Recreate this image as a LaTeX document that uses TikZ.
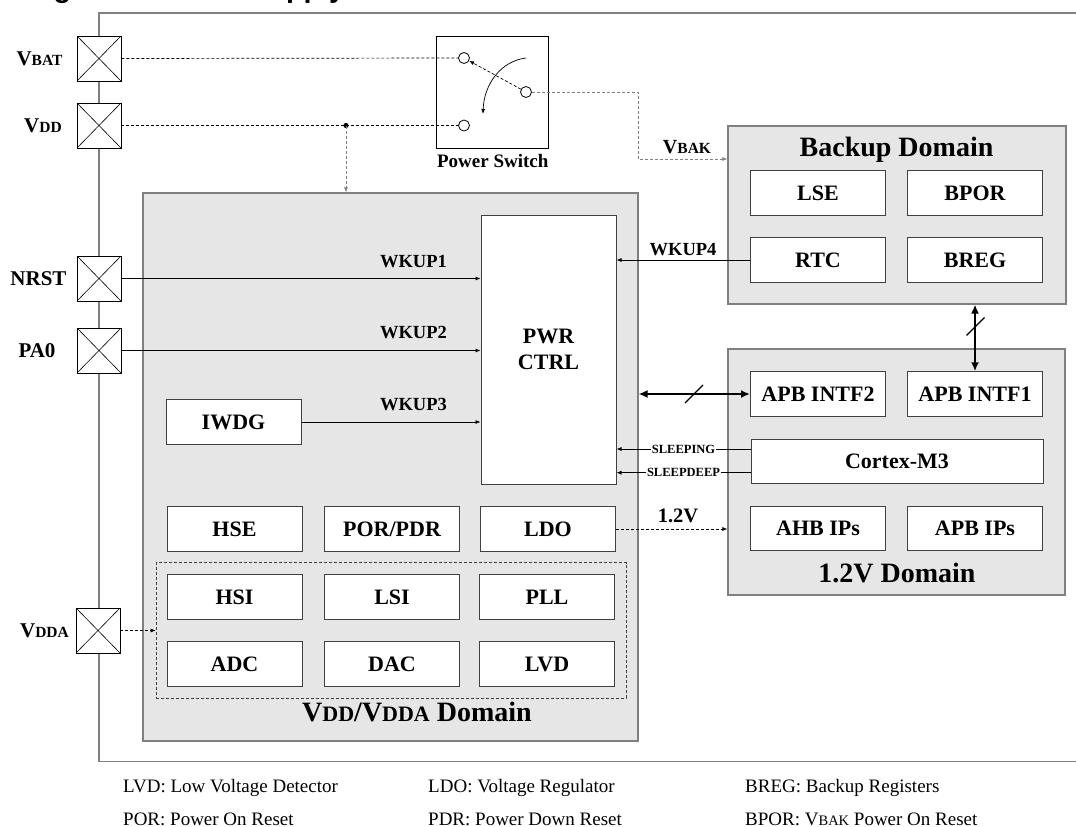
\documentclass[tikz,border=0pt]{standalone}
\usepackage{fontspec}
\setmainfont{Liberation Serif}
\newfontfamily\titlefont{Liberation Sans}
\usetikzlibrary{arrows.meta,calc}
\definecolor{domfill}{HTML}{E6E6E6}
\definecolor{framegray}{HTML}{808080}
\definecolor{boxline}{HTML}{404040}
\newcommand{\fsz}[1]{\fontsize{#1}{#1}\selectfont}
\newcommand{\lowc}[2]{{\fontsize{#2}{#2}\selectfont #1}}
\tikzset{
  dom/.style={draw=framegray, fill=domfill, line width=1.1pt, inner sep=0pt},
  blk/.style={draw=boxline, fill=white, line width=1pt, minimum width=135pt, minimum height=44.5pt, inner sep=0pt, font=\bfseries\fsz{22}},
  pad/.style={draw=black, fill=white, line width=0.8pt, minimum width=44pt, minimum height=45pt, inner sep=0pt,
    path picture={\draw[line width=0.6pt] (path picture bounding box.north west) -- (path picture bounding box.south east)
      (path picture bounding box.north east) -- (path picture bounding box.south west);}},
  padlbl/.style={font=\bfseries\fsz{21}, inner sep=0pt},
  sig/.style={draw=black, line width=0.7pt, -{Latex[length=5pt,width=4pt]}},
  dsig/.style={sig, dash pattern=on 3pt off 2pt},
  bus/.style={line width=1.8pt, {Latex[length=9pt,width=8pt]}-{Latex[length=9pt,width=8pt]}},
  wlbl/.style={font=\bfseries\fsz{18.5}, anchor=base, inner sep=0pt},
  dtitle/.style={font=\bfseries\fsz{28}, anchor=base, inner sep=0pt},
  swc/.style={circle, draw=black, fill=white, minimum size=11pt, inner sep=0pt, line width=0.8pt},
  leg/.style={font=\mdseries\fsz{19}, anchor=base west, inner sep=0pt},
  slbl/.style={font=\bfseries\fsz{12.5}, fill=white, inner sep=0.6pt}
}
\begin{document}
\begin{tikzpicture}[x=1pt,y=-1pt]
\useasboundingbox (0,0) rectangle (1076,827);
% clipped title (only its descenders show)
\node[anchor=base west, inner sep=0pt, font=\titlefont\bfseries\fsz{28.7}] (title) at (28,-2.5) {Figure 4. Power supply};
% outer frame
\draw[framegray, line width=1.3pt] (1080,13) -- (99,13) -- (99,761.5) -- (1080,761.5);
% domains
\node[dom, minimum width=495pt, minimum height=548pt] (vdd) at (390.5,467) {};
\node[dom, minimum width=338pt, minimum height=178pt] (bkp) at (897,215) {};
\node[dom, minimum width=337pt, minimum height=246pt] (v12) at (896.5,472) {};
\node[dtitle] (bkpt) at (896.5,156) {Backup Domain};
\node[dtitle] (v12t) at (897,582.5) {1.2V Domain};
\node[dtitle] (vddt) at (417,721.5) {V\lowc{DD}{22}/V\lowc{DDA}{22} Domain};
% backup blocks
\node[blk] (lse) at (818,193) {LSE};
\node[blk] (bpor) at (975,193) {BPOR};
\node[blk] (rtc) at (818,260) {RTC};
\node[blk] (breg) at (975,260) {BREG};
% 1.2V blocks
\node[blk] (intf2) at (818,394) {APB INTF2};
\node[blk] (intf1) at (975,394) {APB INTF1};
\node[blk, minimum width=292pt] (cm3) at (897,461.5) {Cortex-M3};
\node[blk] (ahb) at (818,528.5) {AHB IPs};
\node[blk] (apb) at (975,528.5) {APB IPs};
% VDD domain blocks
\node[blk, minimum height=269pt, align=center, font=\bfseries\fontsize{22}{26}\selectfont] (pwr) at (548.5,349.5) {PWR\\CTRL};
\node[blk] (iwdg) at (233.5,422) {IWDG};
\node[blk] (hse) at (234.5,529) {HSE};
\node[blk] (por) at (392,529) {POR/PDR};
\node[blk] (ldo) at (548,529) {LDO};
\node[draw=boxline, line width=0.8pt, dash pattern=on 3pt off 2pt, minimum width=470pt, minimum height=135.5pt, inner sep=0pt] (grp) at (391,630.5) {};
\node[blk] (hsi) at (234.5,597) {HSI};
\node[blk] (lsi) at (392,597) {LSI};
\node[blk] (pll) at (547,597) {PLL};
\node[blk] (adc) at (234.5,664) {ADC};
\node[blk] (dac) at (392,664) {DAC};
\node[blk] (lvd) at (547,664) {LVD};
% pads
\node[pad] (pbat) at (99,58.5) {};
\node[pad] (pdd) at (99,125.5) {};
\node[pad] (prst) at (99,278.5) {};
\node[pad] (ppa) at (99,350.5) {};
\node[pad] (pdda) at (98,630.5) {};
\node[padlbl] (lbat) at (39.5,58.5) {V\lowc{BAT}{15.5}};
\node[padlbl] (ldd) at (43,125.5) {V\lowc{DD}{15.5}};
\node[padlbl] (lrst) at (38.5,278.5) {NRST};
\node[padlbl] (lpa) at (37,350.5) {PA0};
\node[padlbl] (ldda) at (44.5,630.5) {V\lowc{DDA}{15.5}};
% power switch
\node[draw=black, line width=0.8pt, minimum width=112pt, minimum height=112pt, inner sep=0pt] (swbox) at (492,92) {};
\node[swc] (c1) at (464,58) {};
\node[swc] (c2) at (464,125.5) {};
\node[swc] (c3) at (526,92) {};
\node[font=\bfseries\fsz{19}, anchor=base, inner sep=0pt] (swlbl) at (492.8,167.7) {Power Switch};
\coordinate (arcs) at (526,58);
\coordinate (arce) at (483,114);
\draw[line width=0.7pt, -{Latex[length=5pt,width=4pt]}] (arcs) .. controls (501,61) and (484,84) .. (arce);
\draw[dsig] (c3) -- (c1);
% supply lines
\draw[dsig, -] (pbat.east) -- (c1.west);
\draw[dsig, -] (pdd.east) -- (c2.west);
\coordinate (dot) at (346,125.5);
\fill (dot) circle (2.6pt);
\draw[dsig, draw=framegray] (dot) -- (dot |- vdd.north);
\coordinate (vb1) at (638,92);
\coordinate (vb2) at (638,159);
\draw[dsig, draw=framegray] (c3.east) -- (vb1) -- (vb2) -- (vb2 -| bkp.west);
\node[anchor=base, inner sep=0pt, font=\bfseries\fsz{20}] (vbak) at (687,153.3) {V\lowc{BAK}{15.5}};
% wakeup signals
\draw[sig] (prst.east) -- (prst.east -| pwr.west);
\draw[sig] (ppa.east) -- (ppa.east -| pwr.west);
\draw[sig] (iwdg.east) -- (iwdg.east -| pwr.west);
\draw[sig] (rtc.west) -- (rtc.west -| pwr.east);
\node[wlbl] (w1) at (413.5,267) {WKUP1};
\node[wlbl] (w2) at (413.5,338.7) {WKUP2};
\node[wlbl] (w3) at (413.5,410) {WKUP3};
\node[wlbl] (w4) at (683,255) {WKUP4};
% sleep signals
\coordinate (sa) at ($(cm3.west)+(0,-12.5)$);
\coordinate (sb) at ($(cm3.west)+(0,11.2)$);
\draw[sig] (sa) -- (sa -| pwr.east) node[slbl, midway] {SLEEPING};
\draw[sig] (sb) -- (sb -| pwr.east) node[slbl, midway] {SLEEPDEEP};
% 1.2V supply
\draw[dsig] (ldo.east) -- (ldo.east -| v12.west);
\node[anchor=base, inner sep=0pt, font=\bfseries\fsz{20.5}] (v12lbl) at (678,522) {1.2V};
% VDDA
\draw[dsig] (pdda.east) -- (pdda.east -| grp.west);
% buses
\draw[bus] (vdd.east |- intf2.west) -- (intf2.west);
\coordinate (bm) at (694,394);
\draw[line width=1.2pt] ($(bm)+(-9,9)$) -- ($(bm)+(9,-9)$);
\draw[bus] (intf1.north |- bkp.south) -- (intf1.north);
\coordinate (bv) at (975.5,326.5);
\draw[line width=1.2pt] ($(bv)+(-9,9)$) -- ($(bv)+(9,-9)$);
% legend
\node[leg] (lg1) at (123,792) {LVD: Low Voltage Detector};
\node[leg] (lg2) at (428,792) {LDO: Voltage Regulator};
\node[leg] (lg3) at (745,792) {BREG: Backup Registers};
\node[leg] (lg4) at (123,825) {POR: Power On Reset};
\node[leg] (lg5) at (428,825) {PDR: Power Down Reset};
\node[leg] (lg6) at (745,825) {BPOR: V\lowc{BAK}{14.5} Power On Reset};
\end{tikzpicture}
\end{document}
